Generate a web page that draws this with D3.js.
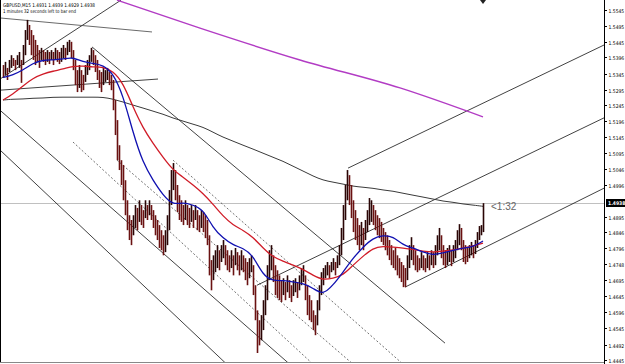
<!DOCTYPE html>
<html><head><meta charset="utf-8">
<script src="https://cdn.jsdelivr.net/npm/d3@7"></script>
<style>html,body{margin:0;padding:0;background:#fff;overflow:hidden}svg{display:block}</style>
</head><body>
<svg id="c" width="625" height="364"></svg>
<script>
// ---- data (GBPUSD M15) ----
const symbolTitle = "GBPUSD,M15  1.4931 1.4939 1.4929 1.4938";
const timerText = "1 minutes 32 seconds left to bar end";
const countdown = "<1:32";
const lastPrice = 1.4938;
const priceTicks = [1.5545,1.5495,1.5445,1.5396,1.5345,1.5295,1.5245,1.5196,1.5145,1.5095,1.5046,1.4996,1.4895,1.4846,1.4796,1.4748,1.4695,1.4645,1.4596,1.4545,1.4492,1.4445];
// bar highs / lows (one per bar, 241 bars)
const barHigh = [1.5372,1.5382,1.5363,1.5388,1.5403,1.5394,1.5388,1.5403,1.5413,1.5388,1.5435,1.5482,1.5514,1.5498,1.5482,1.5466,1.5451,1.5435,1.5419,1.5426,1.5419,1.5413,1.5419,1.5413,1.5419,1.5413,1.5426,1.5419,1.5413,1.5426,1.5435,1.5426,1.5445,1.5451,1.5445,1.5419,1.5388,1.5356,1.5372,1.5356,1.5341,1.5372,1.5388,1.5403,1.5426,1.5419,1.5403,1.5388,1.5356,1.5350,1.5363,1.5356,1.5363,1.5350,1.5341,1.5325,1.5262,1.5199,1.5120,1.5073,1.5058,1.5010,1.4947,1.4900,1.4885,1.4900,1.4932,1.4923,1.4947,1.4932,1.4916,1.4947,1.4932,1.4947,1.4932,1.4916,1.4900,1.4885,1.4869,1.4853,1.4837,1.4853,1.4900,1.4979,1.5042,1.5064,1.5042,1.4995,1.4963,1.4947,1.4932,1.4947,1.4932,1.4923,1.4932,1.4916,1.4932,1.4916,1.4900,1.4916,1.4910,1.4900,1.4885,1.4837,1.4759,1.4774,1.4790,1.4806,1.4790,1.4806,1.4822,1.4806,1.4790,1.4774,1.4790,1.4774,1.4797,1.4784,1.4774,1.4790,1.4774,1.4765,1.4753,1.4765,1.4774,1.4743,1.4680,1.4601,1.4570,1.4586,1.4633,1.4680,1.4743,1.4790,1.4806,1.4774,1.4743,1.4727,1.4711,1.4696,1.4702,1.4690,1.4711,1.4696,1.4680,1.4696,1.4702,1.4690,1.4711,1.4734,1.4743,1.4711,1.4680,1.4649,1.4633,1.4601,1.4586,1.4633,1.4680,1.4721,1.4734,1.4743,1.4753,1.4743,1.4753,1.4765,1.4753,1.4774,1.4806,1.4860,1.4932,1.4995,1.5042,1.5026,1.4995,1.4947,1.4916,1.4891,1.4869,1.4879,1.4860,1.4885,1.4916,1.4954,1.4947,1.4932,1.4916,1.4900,1.4891,1.4879,1.4860,1.4847,1.4837,1.4822,1.4806,1.4790,1.4797,1.4774,1.4765,1.4753,1.4743,1.4734,1.4774,1.4806,1.4831,1.4806,1.4790,1.4774,1.4765,1.4784,1.4774,1.4765,1.4784,1.4774,1.4790,1.4784,1.4806,1.4837,1.4860,1.4837,1.4806,1.4790,1.4797,1.4806,1.4790,1.4806,1.4822,1.4853,1.4872,1.4860,1.4822,1.4806,1.4797,1.4806,1.4816,1.4806,1.4822,1.4847,1.4866,1.4869,1.4938];
const barLow = [1.5332,1.5341,1.5325,1.5350,1.5363,1.5369,1.5356,1.5372,1.5363,1.5316,1.5372,1.5403,1.5451,1.5435,1.5403,1.5388,1.5372,1.5382,1.5363,1.5388,1.5382,1.5372,1.5382,1.5375,1.5388,1.5372,1.5388,1.5382,1.5375,1.5382,1.5394,1.5388,1.5403,1.5413,1.5394,1.5356,1.5309,1.5287,1.5300,1.5287,1.5293,1.5319,1.5341,1.5356,1.5382,1.5372,1.5350,1.5325,1.5300,1.5287,1.5309,1.5319,1.5325,1.5309,1.5293,1.5230,1.5152,1.5073,1.5042,1.4995,1.4947,1.4900,1.4853,1.4822,1.4806,1.4837,1.4860,1.4853,1.4879,1.4869,1.4860,1.4891,1.4885,1.4900,1.4885,1.4860,1.4837,1.4822,1.4797,1.4790,1.4774,1.4784,1.4806,1.4853,1.4932,1.4979,1.4947,1.4910,1.4885,1.4879,1.4869,1.4885,1.4869,1.4860,1.4879,1.4860,1.4885,1.4853,1.4847,1.4860,1.4847,1.4828,1.4806,1.4711,1.4664,1.4696,1.4721,1.4734,1.4727,1.4753,1.4765,1.4743,1.4727,1.4721,1.4734,1.4711,1.4743,1.4727,1.4711,1.4727,1.4721,1.4696,1.4680,1.4702,1.4721,1.4649,1.4570,1.4467,1.4491,1.4507,1.4539,1.4586,1.4633,1.4696,1.4727,1.4690,1.4649,1.4640,1.4633,1.4627,1.4649,1.4633,1.4658,1.4640,1.4627,1.4646,1.4658,1.4640,1.4664,1.4680,1.4690,1.4633,1.4586,1.4570,1.4564,1.4539,1.4523,1.4554,1.4601,1.4649,1.4680,1.4702,1.4711,1.4702,1.4721,1.4727,1.4711,1.4734,1.4743,1.4774,1.4822,1.4885,1.4947,1.4932,1.4891,1.4847,1.4822,1.4806,1.4790,1.4806,1.4790,1.4822,1.4847,1.4869,1.4879,1.4869,1.4853,1.4837,1.4828,1.4816,1.4806,1.4790,1.4774,1.4759,1.4743,1.4734,1.4727,1.4711,1.4702,1.4690,1.4674,1.4674,1.4696,1.4734,1.4759,1.4743,1.4727,1.4721,1.4727,1.4734,1.4727,1.4721,1.4734,1.4727,1.4743,1.4734,1.4743,1.4774,1.4790,1.4765,1.4743,1.4734,1.4743,1.4753,1.4740,1.4753,1.4765,1.4790,1.4806,1.4790,1.4753,1.4746,1.4753,1.4765,1.4774,1.4765,1.4778,1.4797,1.4822,1.4837,1.4847];
// moving averages sampled every 5 bars (bar 0,5,10,...,240)
const maFast = [1.5333,1.5341,1.5356,1.5378,1.5388,1.5388,1.5391,1.5397,1.5381,1.5378,1.5372,1.5347,1.5278,1.5159,1.5064,1.5010,1.4963,1.4932,1.4941,1.4932,1.4919,1.4860,1.4828,1.4806,1.4797,1.4774,1.4711,1.4693,1.4696,1.4690,1.4686,1.4671,1.4649,1.4680,1.4721,1.4765,1.4800,1.4828,1.4837,1.4834,1.4806,1.4797,1.4784,1.4774,1.4781,1.4790,1.4797,1.4800,1.4819];
const maSlow = [1.5262,1.5281,1.5306,1.5331,1.5344,1.5353,1.5359,1.5369,1.5369,1.5366,1.5366,1.5353,1.5316,1.5240,1.5174,1.5126,1.5082,1.5042,1.5020,1.4995,1.4969,1.4935,1.4897,1.4869,1.4853,1.4831,1.4797,1.4768,1.4756,1.4743,1.4730,1.4711,1.4696,1.4702,1.4711,1.4743,1.4771,1.4797,1.4803,1.4800,1.4797,1.4793,1.4787,1.4784,1.4787,1.4790,1.4797,1.4803,1.4812];
const maLong = [1.5262,1.5265,1.5265,1.5268,1.5268,1.5271,1.5271,1.5271,1.5271,1.5271,1.5271,1.5265,1.5256,1.5246,1.5237,1.5227,1.5218,1.5205,1.5196,1.5186,1.5177,1.5161,1.5145,1.5133,1.5120,1.5108,1.5095,1.5082,1.5070,1.5054,1.5039,1.5023,1.5010,1.5004,1.4998,1.4991,1.4988,1.4985,1.4979,1.4976,1.4969,1.4963,1.4957,1.4951,1.4944,1.4941,1.4935,1.4932,1.4928];
const maHigherTf = [[57,1.5576],[98.5,1.5488],[148.5,1.5388],[198.5,1.5300],[240,1.5209]];
// drawn objects [barIndexA, priceA, barIndexB, priceB]
const trendSolid = [
  [-1.5,1.5328,59,1.5576],
  [-1.5,1.5293,77.5,1.5328],
  [44.5,1.5429,221,1.4498],
  [-1.5,1.5230,143.5,1.4431],
  [-1.5,1.5105,112,1.4431],
  [127,1.4680,300.5,1.5206],
  [172.5,1.5048,300.5,1.5435],
  [201,1.4674,300.5,1.4985]
];
const trendGray = [[-1.5,1.5520,74.5,1.5476]];
const trendDashed = [
  [85,1.5073,200,1.4432],
  [57,1.5073,175,1.4432],
  [35,1.5130,155,1.4432]
];

// ---- drawing ----
const svg = d3.select("#c");
const W = 625, H = 364, axisX = 604;
const x = d3.scaleLinear().domain([0, 240]).range([3, 483]);
const y = d3.scaleLinear().domain([1.4445, 1.5545]).range([360, 10]);

svg.append("defs").append("clipPath").attr("id","clip")
  .append("rect").attr("x",1).attr("y",0).attr("width",axisX-1).attr("height",362);
const plot = svg.append("g").attr("clip-path","url(#clip)");

// current price line
plot.append("line").attr("x1",0).attr("x2",axisX).attr("y1",Math.round(y(lastPrice))+0.5).attr("y2",Math.round(y(lastPrice))+0.5)
  .attr("stroke","#c0c0c0").attr("stroke-width",1);

const lineOf = d => plot.append("line").attr("x1",x(d[0])).attr("y1",y(d[1])).attr("x2",x(d[2])).attr("y2",y(d[3]));
trendSolid.forEach(d => lineOf(d).attr("stroke","#111").attr("stroke-width",0.8));
trendGray.forEach(d => lineOf(d).attr("stroke","#444").attr("stroke-width",0.8));
trendDashed.forEach(d => lineOf(d).attr("stroke","#333").attr("stroke-width",0.7).attr("stroke-dasharray","2,2"));

// higher timeframe MA (magenta)
plot.append("path").datum(maHigherTf)
  .attr("d", d3.line().x(d=>x(d[0])).y(d=>y(d[1])).curve(d3.curveMonotoneX))
  .attr("fill","none").attr("stroke","#b23cc4").attr("stroke-width",1.4);

// long MA (dark gray)
const maLine = d3.line().x((d,i)=>x(i*5)).y(d=>y(d)).curve(d3.curveBasis);
plot.append("path").datum(maLong).attr("d",maLine).attr("fill","none").attr("stroke","#3a3a3a").attr("stroke-width",1);

// bars
const bars = barHigh.map((h,i)=>({i,h,l:barLow[i]}));
plot.selectAll("line.bar").data(bars).enter().append("line").attr("class","bar")
  .attr("x1",d=>x(d.i)+0.5).attr("x2",d=>x(d.i)+0.5)
  .attr("y1",d=>y(d.h)).attr("y2",d=>y(d.l))
  .attr("stroke",(d,i)=> i>0 && (d.h+d.l) > (barHigh[i-1]+barLow[i-1]) ? "#2a0505" : "#6a1212")
  .attr("stroke-width",1.6);

// MAs
plot.append("path").datum(maSlow).attr("d",maLine).attr("fill","none").attr("stroke","#d01c28").attr("stroke-width",1.3);
plot.append("path").datum(maFast).attr("d",maLine).attr("fill","none").attr("stroke","#1010b0").attr("stroke-width",1.3);

// frame
svg.append("line").attr("x1",0.5).attr("x2",0.5).attr("y1",0).attr("y2",363).attr("stroke","#000");
svg.append("line").attr("x1",0).attr("x2",axisX).attr("y1",362.5).attr("y2",362.5).attr("stroke","#888");
svg.append("line").attr("x1",axisX+0.5).attr("x2",axisX+0.5).attr("y1",0).attr("y2",H).attr("stroke","#000");

// price axis
const ax = svg.append("g");
const axFont = "DejaVu Sans Condensed, DejaVu Sans, sans-serif";
priceTicks.forEach(p=>{
  const yy = Math.round(y(p))+0.5;
  ax.append("line").attr("x1",axisX).attr("x2",axisX+3).attr("y1",yy).attr("y2",yy).attr("stroke","#000");
  ax.append("text").attr("x",axisX+4.5).attr("y",yy+2).text(p.toFixed(4))
    .attr("font-family",axFont).attr("font-size",5).attr("fill","#000");
});
const ly = Math.round(y(lastPrice));
ax.append("rect").attr("x",axisX+2).attr("y",ly-4).attr("width",19).attr("height",8).attr("fill","#000");
ax.append("text").attr("x",axisX+4).attr("y",ly+2).text(lastPrice.toFixed(4))
  .attr("font-family",axFont).attr("font-size",5).attr("fill","#fff").attr("font-weight","bold");

// countdown
svg.append("text").attr("x",x(240)+8).attr("y",y(lastPrice)+7).text(countdown)
  .attr("font-family","Liberation Sans, Arial, sans-serif").attr("font-size",10).attr("fill","#666");

// shift marker
svg.append("path").attr("d",`M${x(240)-3},0 L${x(240)+3},0 L${x(240)},4 Z`).attr("fill","#222");

// title
svg.append("text").attr("x",3).attr("y",7).text(symbolTitle)
  .attr("textLength",92).attr("lengthAdjust","spacingAndGlyphs")
  .attr("font-family","DejaVu Sans, sans-serif").attr("font-size",5).attr("fill","#000");
svg.append("text").attr("x",3).attr("y",12.5).text(timerText)
  .attr("textLength",73).attr("lengthAdjust","spacingAndGlyphs")
  .attr("font-family","DejaVu Sans, sans-serif").attr("font-size",5).attr("fill","#000");
</script>
</body></html>
